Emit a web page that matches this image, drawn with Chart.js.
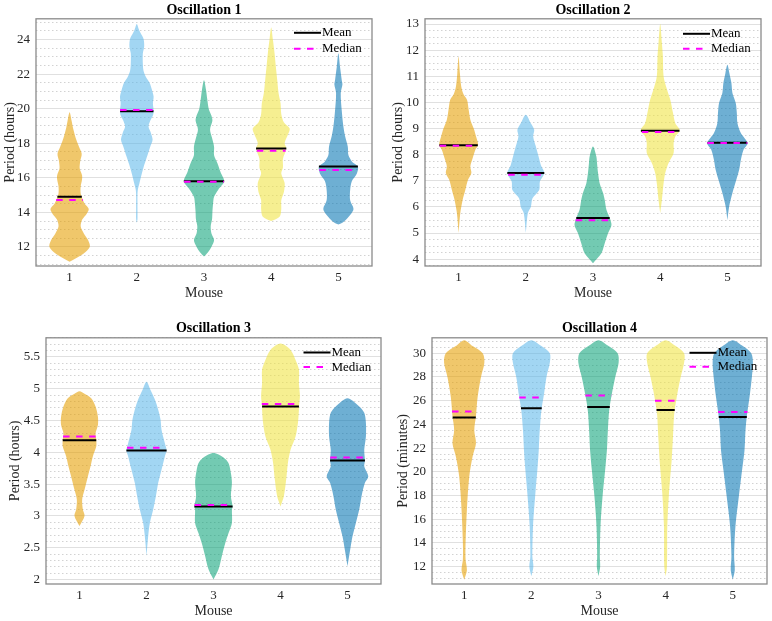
<!DOCTYPE html>
<html><head><meta charset="utf-8">
<script src="https://cdn.jsdelivr.net/npm/chart.js@4/dist/chart.umd.min.js"></script>
<style>
html,body{margin:0;padding:0;background:#fff;width:772px;height:621px;overflow:hidden;}
.panel{position:absolute;}
</style></head><body>
<div class="panel" style="left:0px;top:0px;width:386px;height:305px"><canvas id="c1"></canvas></div>
<div class="panel" style="left:386px;top:0px;width:386px;height:305px"><canvas id="c2"></canvas></div>
<div class="panel" style="left:0px;top:318px;width:386px;height:303px"><canvas id="c3"></canvas></div>
<div class="panel" style="left:386px;top:318px;width:386px;height:303px"><canvas id="c4"></canvas></div>
<script>
// ---------- DATA ----------
const MICE = [1, 2, 3, 4, 5];
const MICE_LABELS = ['1', '2', '3', '4', '5'];
const TITLES = ['Oscillation 1', 'Oscillation 2', 'Oscillation 3', 'Oscillation 4'];
const Y_TITLES = ['Period (hours)', 'Period (hours)', 'Period (hours)', 'Period (minutes)'];

// Oscillation 1 : violin profiles (period value, relative density)
const O1_M1_Y = [11.15,11.6,12.0,12.4,12.8,13.2,13.6,13.9,14.2,14.5,14.8,15.1,15.5,15.9,16.15,16.55,17.0,17.4,17.8,18.2,18.6,18.9,19.3,19.8];
const O1_M1_D = [0,40,60,55,42,33,38,50,57,45,38,33,33,37,37,30,32,36,28,20,14,10,6,0];
const O1_M2_Y = [13.4,13.6,14.2,15.0,15.3,15.7,16.25,16.6,17.2,17.8,18.2,18.6,18.95,19.3,19.6,19.9,20.3,20.7,21.1,21.5,21.8,22.2,22.6,23.2,23.6,24.05,24.35,24.6,24.9];
const O1_M2_D = [0,2,2,2,3,8,15,20,30,40,47,42,35,40,48,50,48,50,45,38,28,20,18,18,22,20,12,6,0];
const O1_M3_Y = [11.45,11.7,12.0,12.4,12.8,13.2,13.6,14.0,14.5,14.9,15.3,15.8,16.3,16.85,17.3,17.8,18.3,18.8,19.3,19.6,20.0,20.5,21.1,21.65];
const O1_M3_D = [0,12,22,30,22,20,24,25,27,30,42,60,50,40,30,30,24,18,25,22,14,10,6,0];
const O1_M4_Y = [13.5,13.75,14.2,14.7,15.2,15.7,16.25,16.6,17.1,17.7,18.0,18.5,18.85,19.2,19.7,20.3,20.9,21.65,22.4,23.2,24.0,24.7];
const O1_M4_D = [0,25,30,30,38,40,30,35,35,45,40,50,55,38,30,28,22,18,14,10,5,0];
const O1_M5_Y = [13.3,13.45,13.85,14.2,14.7,15.3,15.8,16.25,16.65,16.9,17.3,17.8,18.4,18.95,19.9,20.9,21.4,21.65,22.4,23.2];
const O1_M5_D = [0,15,35,45,35,35,40,55,58,42,30,28,20,15,10,7,12,10,5,0];
const O1_MEAN = [14.9, 19.85, 15.8, 17.7, 16.65];
const O1_MEDIAN = [14.72, 19.93, 15.78, 17.57, 16.45];
const O1_YTICKS = [12, 14, 16, 18, 20, 22, 24];

// Oscillation 2
const O2_M1_Y = [5.0,5.76,6.27,6.65,7.04,7.3,7.55,7.87,8.19,8.38,8.7,9.0,9.34,9.72,10.1,10.3,10.6,11.1,11.76];
const O2_M1_D = [0,5,12,20,28,38,35,42,50,58,52,45,35,30,25,15,8,4,0];
const O2_M2_Y = [5.0,5.76,6.0,6.33,6.65,6.97,7.3,7.6,7.93,8.31,8.7,8.95,9.2,9.53];
const O2_M2_D = [0,6,15,20,40,42,55,45,38,30,22,25,15,0];
const O2_M3_Y = [3.85,4.23,4.61,5.0,5.31,5.57,5.89,6.27,6.53,6.9,7.3,7.68,7.93,8.31];
const O2_M3_D = [0,25,35,45,55,50,40,35,30,20,15,12,10,0];
const O2_M4_Y = [5.76,6.27,6.9,7.3,7.68,8.06,8.44,8.7,8.93,9.2,9.6,10.1,10.5,11.0,11.76,12.27,13.0];
const O2_M4_D = [0,5,10,15,25,40,40,45,58,45,38,30,20,10,8,5,0];
const O2_M5_Y = [5.5,6.0,6.53,6.97,7.42,7.8,8.19,8.44,8.83,9.2,9.6,9.97,10.36,10.74,11.12,11.44];
const O2_M5_D = [0,5,15,25,35,40,48,60,40,30,28,25,15,12,6,0];
const O2_MEAN = [8.36, 7.3, 5.58, 8.92, 8.46];
const O2_MEDIAN = [8.34, 7.23, 5.49, 8.87, 8.45];
const O2_YTICKS = [4, 5, 6, 7, 8, 9, 10, 11, 12, 13];

// Oscillation 3
const O3_M1_Y = [2.84,3.0,3.1,3.26,3.41,3.62,3.78,3.94,4.09,4.2,4.3,4.43,4.56,4.72,4.85,4.92,4.96];
const O3_M1_D = [0,15,10,8,15,25,33,40,50,50,48,55,55,48,35,15,0];
const O3_M2_Y = [2.37,2.68,2.89,3.1,3.31,3.52,3.73,3.94,4.03,4.14,4.35,4.51,4.67,4.83,4.98,5.11];
const O3_M2_D = [0,5,10,20,28,35,45,55,60,55,45,42,35,25,12,0];
const O3_M3_Y = [2.0,2.16,2.37,2.57,2.73,2.89,3.1,3.15,3.31,3.52,3.67,3.83,3.92,3.99];
const O3_M3_D = [0,15,25,35,45,55,55,57,52,55,52,45,30,0];
const O3_M4_Y = [3.15,3.31,3.62,3.83,4.04,4.25,4.46,4.67,4.72,4.88,5.09,5.3,5.45,5.61,5.71];
const O3_M4_D = [0,10,18,22,30,45,52,55,55,58,55,55,45,30,0];
const O3_M5_Y = [2.21,2.47,2.68,2.89,3.1,3.31,3.52,3.62,3.78,3.87,4.04,4.25,4.46,4.62,4.72,4.85];
const O3_M5_D = [0,8,15,25,35,42,52,62,50,52,50,55,55,50,35,0];
const O3_MEAN = [4.19, 4.03, 3.15, 4.72, 3.87];
const O3_MEDIAN = [4.25, 4.07, 3.17, 4.76, 3.92];
const O3_YTICKS = [2, 2.5, 3, 3.5, 4, 4.5, 5, 5.5];

// Oscillation 4
const O4_M1_Y = [10.9,11.7,12.6,14.0,16.8,19.6,21.3,22.4,23.5,24.7,26.3,28.0,29.2,30.0,30.6,31.1];
const O4_M1_D = [0,8,4,4,8,15,25,35,30,35,40,50,60,55,25,0];
const O4_M2_Y = [11.2,12.0,12.85,15.4,18.2,20.2,21.8,23.5,25.2,26.6,28.0,29.2,30.0,30.6,31.1];
const O4_M2_D = [0,6,3,5,12,18,22,25,30,38,45,55,55,30,0];
const O4_M3_Y = [11.2,12.0,12.85,15.4,17.9,20.2,21.8,23.5,25.2,26.6,28.0,29.2,30.0,30.6,31.1];
const O4_M3_D = [0,5,4,6,12,20,25,28,32,40,50,60,57,30,0];
const O4_M4_Y = [11.2,12.0,15.4,18.2,21.0,23.0,24.7,25.2,26.6,28.0,29.2,30.0,30.6,31.1];
const O4_M4_D = [0,4,5,10,18,22,25,27,35,45,55,55,30,0];
const O4_M5_Y = [10.9,11.7,12.85,15.4,17.9,20.2,21.8,23.5,24.7,26.3,28.0,29.2,30.0,30.6,31.1];
const O4_M5_D = [0,6,4,8,18,28,35,38,42,50,57,60,55,30,0];
const O4_MEAN = [24.57, 25.36, 25.47, 25.22, 24.63];
const O4_MEDIAN = [25.08, 26.26, 26.43, 26.0, 25.05];
const O4_YTICKS = [12, 14, 16, 18, 20, 22, 24, 26, 28, 30];

// ---------- STYLE ----------
const FILLS = ['rgba(230,159,0,0.58)','rgba(86,180,233,0.55)','rgba(0,158,115,0.55)','rgba(240,228,66,0.58)','rgba(0,114,178,0.57)'];
const WIDTH_SCALE = 0.005;           // density -> half width in x units
const FONT = "'Liberation Serif','Times New Roman',serif";
const TICK_COLOR = '#262626';

function halfAt(v, ys, ds) {
  if (v <= ys[0]) return ds[0];
  for (let j = 1; j < ys.length; j++) {
    if (v <= ys[j]) {
      const t = (v - ys[j-1]) / (ys[j] - ys[j-1]);
      return ds[j-1] + t * (ds[j] - ds[j-1]);
    }
  }
  return ds[ds.length-1];
}
function violinPoints(c, ys, ds) {
  const pts = [];
  for (let j = 0; j < ys.length; j++) pts.push({x: c - ds[j]*WIDTH_SCALE, y: ys[j]});
  for (let j = ys.length - 2; j >= 0; j--) pts.push({x: c + ds[j]*WIDTH_SCALE, y: ys[j]});
  return pts;
}
function minorTicks(min, max, step) {
  const out = [];
  const k0 = Math.ceil(min/step - 1e-9), k1 = Math.floor(max/step + 1e-9);
  for (let k = k0; k <= k1; k++) out.push(Math.round(k*step*1e6)/1e6);
  return out;
}

const frameLegend = {
  id: 'frameLegend',
  afterDraw(chart, args, o) {
    const {ctx, chartArea: a} = chart;
    ctx.save();
    ctx.strokeStyle = '#8a8a8a'; ctx.lineWidth = 1.3;
    ctx.strokeRect(a.left, a.top, a.right - a.left, a.bottom - a.top);
    const tx = a.right - o.textOffset;
    const y1 = a.top + o.y1, y2 = a.top + o.y2;
    ctx.lineWidth = 2;
    ctx.strokeStyle = '#000';
    ctx.beginPath(); ctx.moveTo(tx - 28, y1); ctx.lineTo(tx - 1, y1); ctx.stroke();
    ctx.strokeStyle = '#ff00ff';
    ctx.setLineDash([6.5, 6.5]);
    ctx.beginPath(); ctx.moveTo(tx - 28, y2); ctx.lineTo(tx - 8, y2); ctx.stroke();
    ctx.setLineDash([]);
    ctx.fillStyle = '#000';
    ctx.font = '13px ' + FONT;
    ctx.textBaseline = 'middle'; ctx.textAlign = 'left';
    ctx.fillText('Mean', tx, y1);
    ctx.fillText('Median', tx, y2);
    ctx.restore();
  }
};

function makeChart(id, p) {
  const datasets = [];
  MICE.forEach((c, i) => {
    const ys = p.ys[i], ds = p.ds[i];
    datasets.push({data: violinPoints(c, ys, ds), backgroundColor: FILLS[i], borderColor: 'rgba(0,0,0,0)',
      borderWidth: 0, pointRadius: 0, fill: 'shape', tension: 0.3, order: 3});
    const hm = halfAt(p.mean[i], ys, ds) * WIDTH_SCALE;
    datasets.push({data: [{x: c - hm, y: p.mean[i]}, {x: c + hm, y: p.mean[i]}], borderColor: '#000',
      borderWidth: 2, pointRadius: 0, fill: false, order: 2});
    const hd = halfAt(p.median[i], ys, ds) * WIDTH_SCALE;
    datasets.push({data: [{x: c - hd, y: p.median[i]}, {x: c + hd, y: p.median[i]}], borderColor: '#ff00ff',
      borderWidth: 2, borderDash: [6.5, 6.5], pointRadius: 0, fill: false, order: 1});
  });
  const ticksAll = minorTicks(p.ymin, p.ymax, p.minor);
  const isMajor = v => p.yticks.some(t => Math.abs(t - v) < 1e-6);
  new Chart(document.getElementById(id), {
    type: 'line',
    data: {datasets},
    plugins: [frameLegend],
    options: {
      responsive: true, maintainAspectRatio: false, animation: false, events: [],
      layout: {padding: {left: 0, right: p.padRight, top: 0, bottom: 0}},
      plugins: {
        legend: {display: false}, tooltip: {enabled: false},
        title: {display: true, text: p.title, fullSize: false, color: '#000',
          font: {family: FONT, size: 14, weight: 'bold'}, padding: {top: 2, bottom: p.titlePadB}},
        frameLegend: p.legend
      },
      scales: {
        x: {type: 'linear', min: p.xmin, max: p.xmax,
          grid: {display: false, drawTicks: false}, border: {display: false},
          afterBuildTicks: s => { s.ticks = MICE.map(v => ({value: v})); },
          afterFit: s => { s.height = p.xH; },
          ticks: {autoSkip: false, padding: 4, color: TICK_COLOR, font: {family: FONT, size: 13},
            callback: v => { const k = MICE.indexOf(v); return k >= 0 ? MICE_LABELS[k] : ''; }},
          title: {display: true, text: 'Mouse', color: TICK_COLOR, font: {family: FONT, size: 14},
            padding: {top: 0, bottom: p.xTitlePadB}}
        },
        y: {type: 'linear', min: p.ymin, max: p.ymax,
          grid: {drawTicks: false, lineWidth: 1,
            color: ctx => (ctx.tick && isMajor(ctx.tick.value)) ? '#e0e0e0' : '#d2d2d2'},
          border: {display: false,
            dash: ctx => (ctx.tick && !isMajor(ctx.tick.value)) ? [1.5, 2.5] : []},
          afterBuildTicks: s => { s.ticks = ticksAll.map(v => ({value: v})); },
          afterFit: s => { s.width = p.yW; },
          ticks: {autoSkip: false, padding: 6, color: TICK_COLOR, font: {family: FONT, size: 13},
            callback: v => isMajor(v) ? String(v) : ''},
          title: {display: true, text: p.ytitle, color: TICK_COLOR, font: {family: FONT, size: 14},
            padding: {top: p.yTitlePad, bottom: 0}}
        }
      }
    }
  });
}

makeChart('c1', {title: TITLES[0], ytitle: Y_TITLES[0],
  ys: [O1_M1_Y, O1_M2_Y, O1_M3_Y, O1_M4_Y, O1_M5_Y], ds: [O1_M1_D, O1_M2_D, O1_M3_D, O1_M4_D, O1_M5_D],
  mean: O1_MEAN, median: O1_MEDIAN, yticks: O1_YTICKS, minor: 0.5,
  ymin: 10.9, ymax: 25.2, xmin: 0.5, xmax: 5.5,
  padRight: 14, yW: 36, xH: 39, titlePadB: 0, yTitlePad: 2, xTitlePadB: 3.6,
  legend: {textOffset: 50, y1: 14, y2: 30}});
makeChart('c2', {title: TITLES[1], ytitle: Y_TITLES[1],
  ys: [O2_M1_Y, O2_M2_Y, O2_M3_Y, O2_M4_Y, O2_M5_Y], ds: [O2_M1_D, O2_M2_D, O2_M3_D, O2_M4_D, O2_M5_D],
  mean: O2_MEAN, median: O2_MEDIAN, yticks: O2_YTICKS, minor: 0.25,
  ymin: 3.74, ymax: 13.2, xmin: 0.5, xmax: 5.5,
  padRight: 11, yW: 39, xH: 39, titlePadB: 0, yTitlePad: 4.4, xTitlePadB: 3.6,
  legend: {textOffset: 50, y1: 15, y2: 30}});
makeChart('c3', {title: TITLES[2], ytitle: Y_TITLES[2],
  ys: [O3_M1_Y, O3_M2_Y, O3_M3_Y, O3_M4_Y, O3_M5_Y], ds: [O3_M1_D, O3_M2_D, O3_M3_D, O3_M4_D, O3_M5_D],
  mean: O3_MEAN, median: O3_MEDIAN, yticks: O3_YTICKS, minor: 0.1,
  ymin: 1.93, ymax: 5.8, xmin: 0.5, xmax: 5.5,
  padRight: 5, yW: 46, xH: 37, titlePadB: 1, yTitlePad: 6.9, xTitlePadB: 0.9,
  legend: {textOffset: 49.5, y1: 14.7, y2: 29.3}});
makeChart('c4', {title: TITLES[3], ytitle: Y_TITLES[3],
  ys: [O4_M1_Y, O4_M2_Y, O4_M3_Y, O4_M4_Y, O4_M5_Y], ds: [O4_M1_D, O4_M2_D, O4_M3_D, O4_M4_D, O4_M5_D],
  mean: O4_MEAN, median: O4_MEDIAN, yticks: O4_YTICKS, minor: 0.5,
  ymin: 10.54, ymax: 31.3, xmin: 0.52, xmax: 5.51,
  padRight: 5, yW: 46, xH: 37, titlePadB: 1, yTitlePad: 8.6, xTitlePadB: 0.9,
  legend: {textOffset: 49.5, y1: 15, y2: 29}});
</script>
</body></html>
